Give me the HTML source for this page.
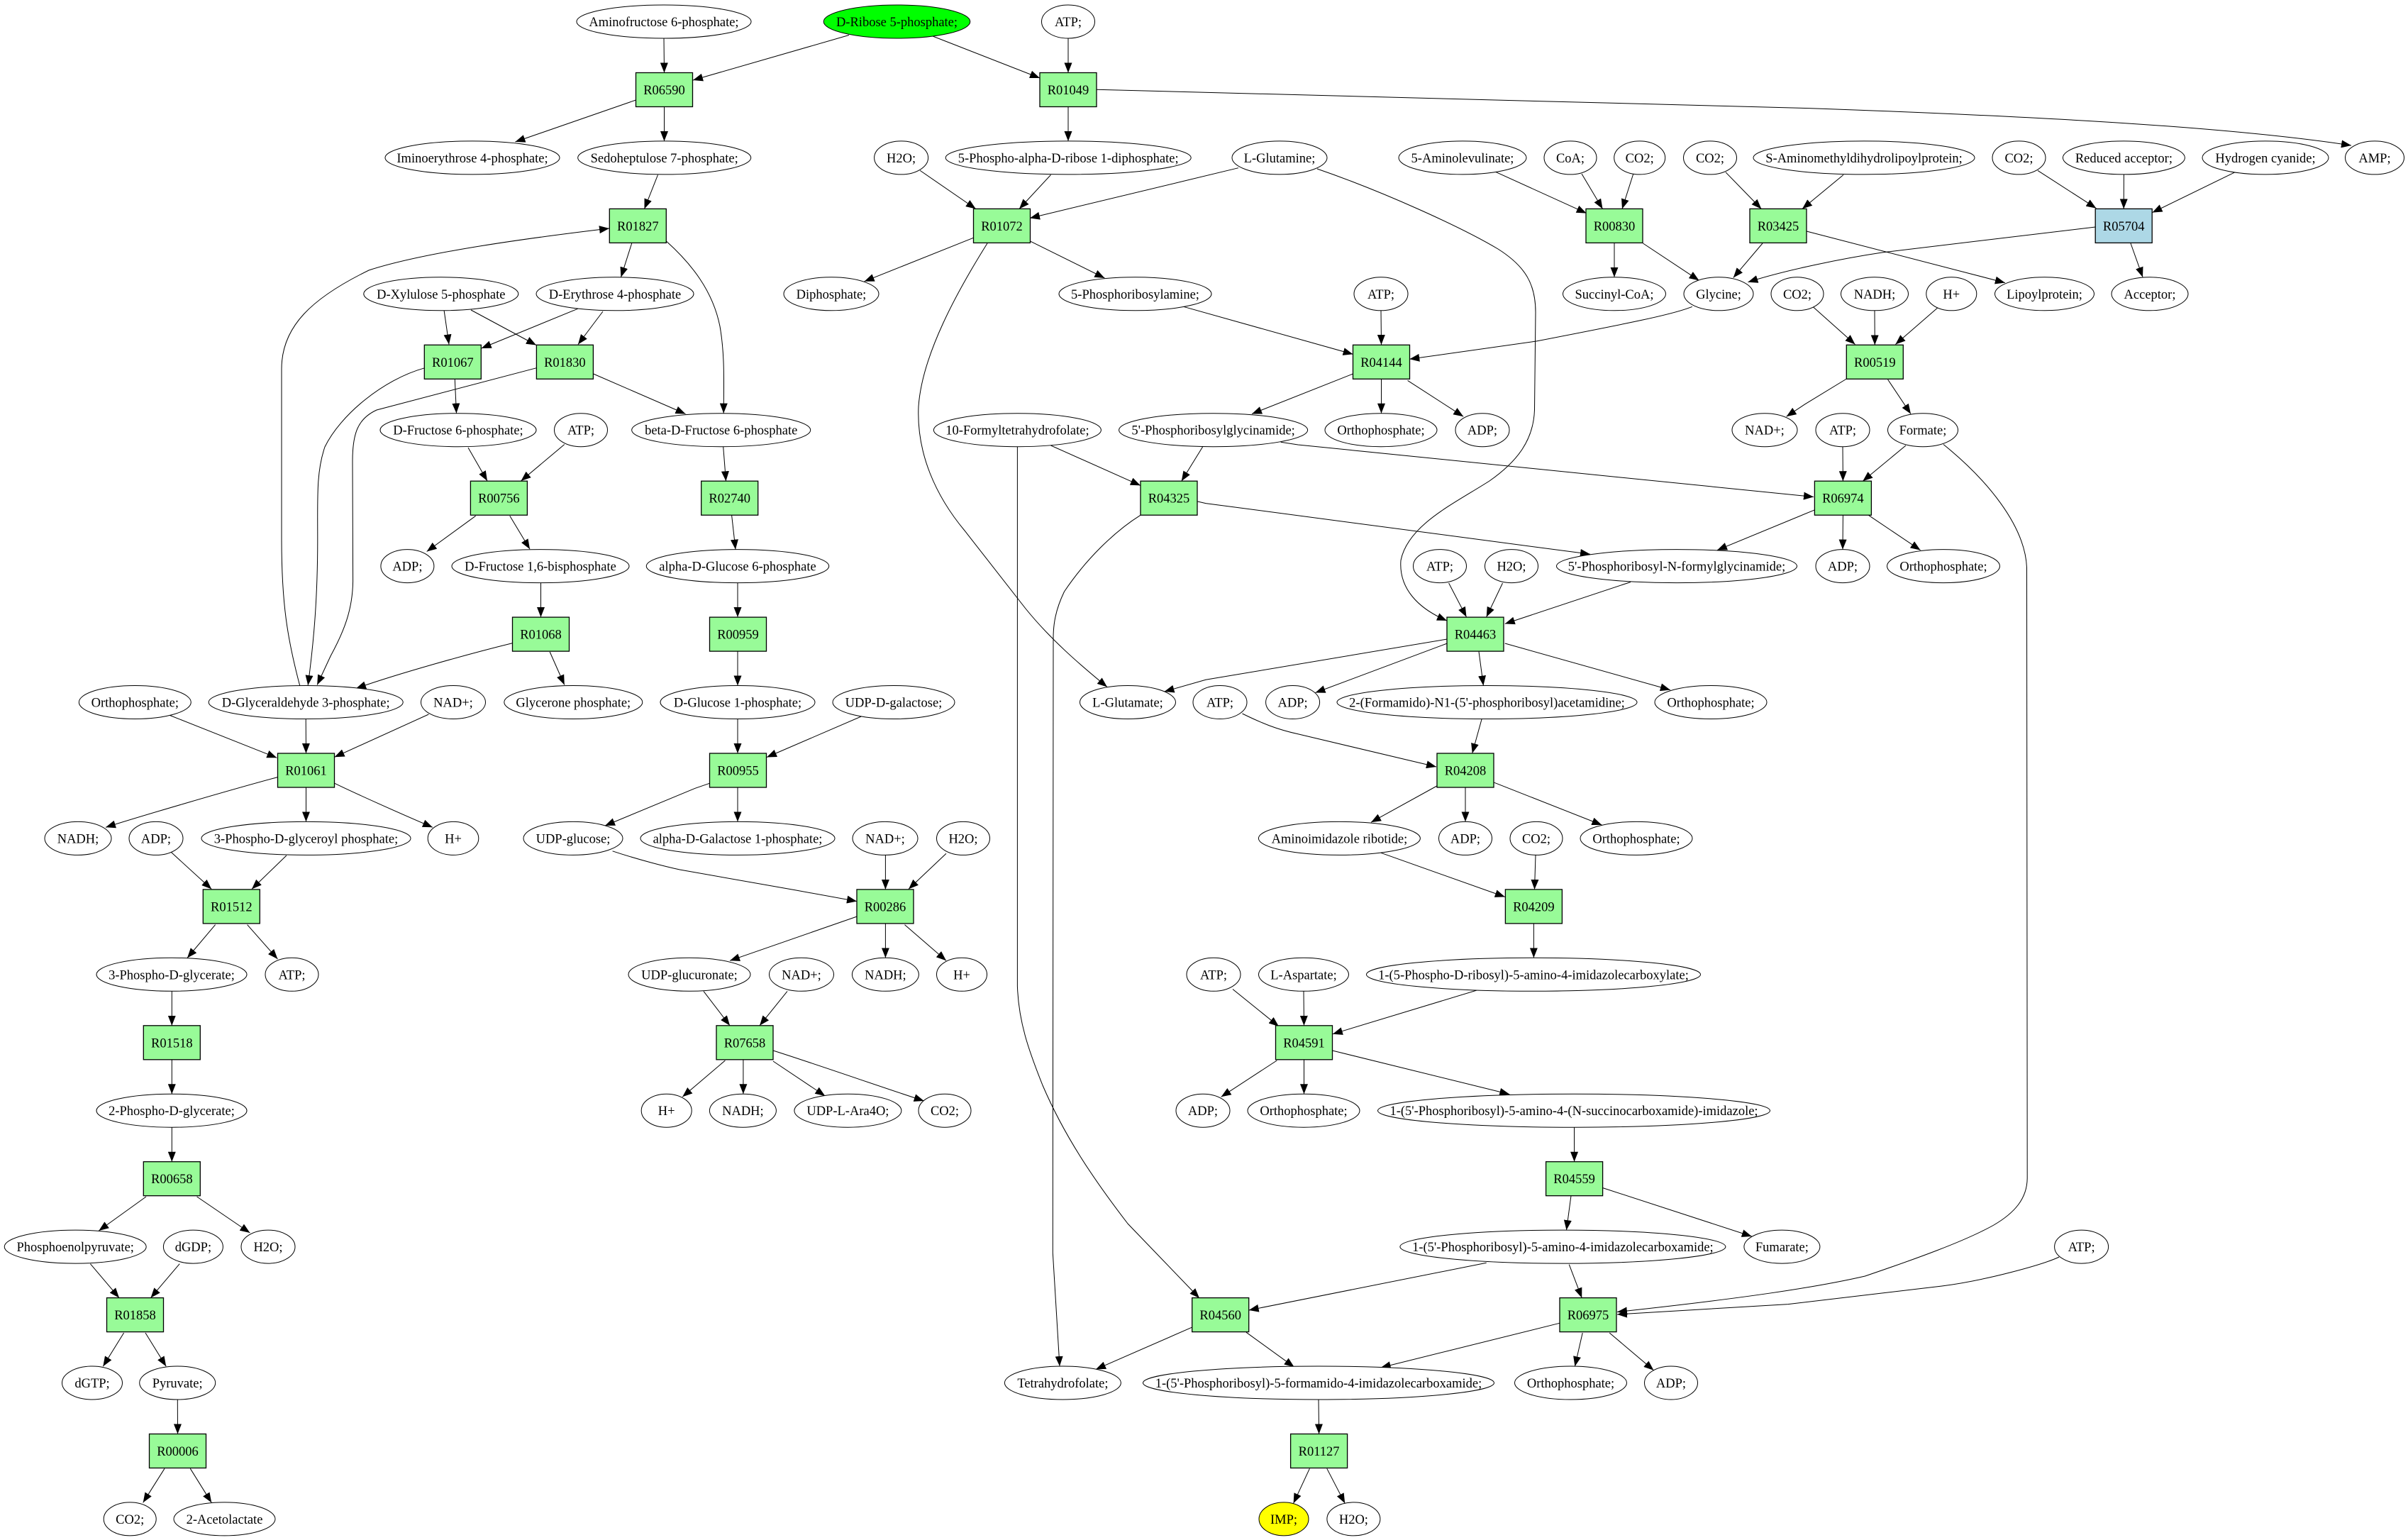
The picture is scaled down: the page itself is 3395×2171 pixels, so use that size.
<!DOCTYPE html>
<html><head><meta charset="utf-8"><style>
html,body{margin:0;padding:0;background:#fff;}
svg{display:block;}
</style></head><body>
<svg xmlns="http://www.w3.org/2000/svg" width="3395" height="2171" viewBox="0 0 3395 2171">
<defs>
<marker id="a" markerWidth="14" markerHeight="11" refX="14" refY="5.5" orient="auto" markerUnits="userSpaceOnUse"><path d="M0,0 L14,5.5 L0,11 z" fill="#000"/></marker>
</defs>
<rect width="3395" height="2171" fill="#fff"/>
<g fill="none" stroke="#000" stroke-width="1" marker-end="url(#a)">
<path d="M936,53.9 L936.5,102.5"/>
<path d="M1197,49.5 L977,113"/>
<path d="M1315,51 L1466,110"/>
<path d="M1506,54 L1506,102.5"/>
<path d="M896.6,141 L726.4,200"/>
<path d="M936.5,150.5 L936.5,199"/>
<path d="M1506,150.5 L1506,199"/>
<path d="M1546,126.2 L2550,152.6 C2900,165 3150,180 3315,205"/>
<path d="M927.5,246.5 L908.5,294.5"/>
<path d="M422.8,966.9 C405,900 397,850 397,760 L397,520 C397,460 440,420 520,381 C600,355 750,335 859,322"/>
<path d="M890.7,343 L875.5,390.7"/>
<path d="M939.4,340 C975,372 1005,410 1015,460 C1022,500 1020.5,540 1020.2,582.6"/>
<path d="M626,437 L633,485.5"/>
<path d="M664,437 L756,486.5"/>
<path d="M816,434.7 L678.7,491"/>
<path d="M850,439 L815,485.5"/>
<path d="M598.5,518.8 C540,535 480,585 458,630 C446,665 447.8,700 447.8,760 C447.8,840 443,900 434.2,966"/>
<path d="M756,518.8 L531,578 C505,590 497,610 497,650 L497.6,819.6 C497,860 485,890 466,925 L447.2,965.5"/>
<path d="M836.5,527 L966.5,583.5"/>
<path d="M641.3,535 L643.5,582.6"/>
<path d="M660,631 L687,678"/>
<path d="M795.8,626.5 L734.5,678"/>
<path d="M670.6,727.3 L601.7,777.5"/>
<path d="M718.8,727.3 L747,774.1"/>
<path d="M762.5,821.6 L762.5,870"/>
<path d="M775.2,919 L795.8,965.5"/>
<path d="M722.6,906.6 C660,922 560,950 502,970.5"/>
<path d="M1019.7,629.8 L1023.5,678.3"/>
<path d="M1031.6,726.3 L1037,774.6"/>
<path d="M1040,821.6 L1040,870"/>
<path d="M1040,918 L1040,966.5"/>
<path d="M1040,1013.5 L1040,1062"/>
<path d="M1214.3,1010 L1081,1067.5"/>
<path d="M1000.7,1104.2 L980,1111.3 L853,1164"/>
<path d="M1040,1110 L1040,1158.4"/>
<path d="M239.6,1008.5 L390.3,1068.3"/>
<path d="M431.2,1013.5 L431.5,1062"/>
<path d="M604.4,1007 L471.6,1067.3"/>
<path d="M391.4,1095.6 C330,1112 200,1150 149,1166.3"/>
<path d="M431.5,1110 L431.5,1158.4"/>
<path d="M471.6,1104.2 C500,1118 560,1145 609.9,1166.3"/>
<path d="M241.2,1201.3 L298.2,1253.4"/>
<path d="M403.9,1206 L355,1253.4"/>
<path d="M303.6,1303.6 L264,1350.5"/>
<path d="M348.6,1303.6 L391.4,1352"/>
<path d="M242.3,1397.3 L242.3,1445.8"/>
<path d="M242.3,1493.8 L242.3,1542.2"/>
<path d="M242.3,1589.2 L242.3,1637.7"/>
<path d="M206,1687 L139.3,1735"/>
<path d="M277.6,1687 L352.4,1738"/>
<path d="M127.4,1781.7 L168,1829.6"/>
<path d="M253.2,1781.7 L212.5,1829.6"/>
<path d="M174.6,1879 L145.3,1926.2"/>
<path d="M205,1879 L234.2,1926.2"/>
<path d="M250.3,1973 L250.5,2021.5"/>
<path d="M232,2070.3 L201.7,2118.3"/>
<path d="M268.3,2070.3 L298.2,2118.3"/>
<path d="M863.6,1199.8 C900,1212 940,1222 958.4,1226 L1121,1254.8 L1208,1270.6"/>
<path d="M1248.4,1205.4 L1248.4,1253.9"/>
<path d="M1334,1203.2 L1281,1253.4"/>
<path d="M1208.3,1292 L1029,1354.3"/>
<path d="M1248.4,1301.9 L1248.4,1350.3"/>
<path d="M1275.5,1303.6 L1334,1354.3"/>
<path d="M992,1397.4 L1029,1445.8"/>
<path d="M1110,1397.4 L1071,1445.8"/>
<path d="M1022.4,1495 L962.2,1546.3"/>
<path d="M1047.9,1493.8 L1047.9,1542.2"/>
<path d="M1090,1496 L1163.3,1545"/>
<path d="M1090,1481 C1150,1500 1250,1535 1302.7,1552"/>
<path d="M1297.2,240.4 L1375.8,294.5"/>
<path d="M1481.5,246.5 L1437,294.5"/>
<path d="M1746,236.7 L1452,307.5"/>
<path d="M1372.6,335.2 L1218.6,396.7"/>
<path d="M1452.3,339.9 L1557.4,392"/>
<path d="M1392,343 C1350,410 1300,500 1295,573 C1292,640 1320,700 1360,748 L1446,858 C1480,900 1520,935 1561,968.5"/>
<path d="M1668.6,432.3 L1907.6,499.4"/>
<path d="M1947,437.8 L1947.5,486"/>
<path d="M2385.8,432.3 C2360,443 2300,455 2166,481 L1987.3,506.3"/>
<path d="M1907.6,527 L1765,583.5"/>
<path d="M1947.5,534.3 L1947.5,582.7"/>
<path d="M1984.6,536.4 L2063.2,587.2"/>
<path d="M2106.6,241.4 L2236.7,300.6"/>
<path d="M2230,245 L2259.5,294.5"/>
<path d="M2302.8,245 L2287,294.5"/>
<path d="M2433,242.8 L2483.3,294.5"/>
<path d="M2599,246.5 L2541,294.4"/>
<path d="M2276,342.4 L2276,390.8"/>
<path d="M2316.4,343 L2395.5,395.4"/>
<path d="M2485,343 L2443.8,391.5"/>
<path d="M2954.3,320 L2653.4,356 C2600,364 2520,380 2464.4,397.7"/>
<path d="M2547,326 L2826.9,398.6"/>
<path d="M2873,240.4 L2955.4,293.6"/>
<path d="M2994.4,245.9 L2994.2,294.4"/>
<path d="M3151,242.8 L3034.5,299.6"/>
<path d="M3004,343 L3021,390.7"/>
<path d="M2555.8,432.3 L2615.5,485.5"/>
<path d="M2643,437.8 L2643.3,486.3"/>
<path d="M2732,433.7 L2672.4,485.5"/>
<path d="M2603.5,534 L2545,569.7 L2518.6,587.2"/>
<path d="M2661.6,535 L2694,583.5"/>
<path d="M2598,629.7 L2598.4,678.2"/>
<path d="M2687,628 L2626.3,678.3"/>
<path d="M2740,626.5 C2800,675 2855,740 2857.5,800 L2858.2,1661 C2858,1690 2840,1710 2811,1727 C2770,1750 2700,1775 2629.5,1799 C2560,1815 2460,1830 2280,1849.5"/>
<path d="M2903.2,1772 C2880,1783 2800,1805 2737.9,1813 L2521,1838.6 L2280,1853"/>
<path d="M2598.4,726.2 L2598,774.6"/>
<path d="M2634.4,726.3 L2707.6,775.6"/>
<path d="M2558.6,718.8 L2421,775.6"/>
<path d="M1805.7,623.3 L1830,627 L2557,700.5"/>
<path d="M1481.5,628 L1607.9,684.4"/>
<path d="M1695.7,629.8 L1665.8,678.3"/>
<path d="M1434.4,629.8 L1434.4,1390 C1436,1440 1450,1480 1470,1530 C1500,1600 1540,1660 1590,1725 L1691,1830"/>
<path d="M1607.9,726.3 C1570,750 1530,790 1500.5,834 C1488,860 1485,880 1485,900 L1484.3,1766 L1494,1926"/>
<path d="M1688.6,707 L1700,709.6 L2242,781.3"/>
<path d="M1857,238 C1950,270 2060,320 2112,351 C2150,375 2165,400 2165,440 L2163.5,578 C2162,620 2140,650 2100,678 C2050,710 1985,740 1975,790 C1972,830 2000,858 2040,875"/>
<path d="M2042.6,822 L2067.5,869.8"/>
<path d="M2118.5,822 L2095.7,869.8"/>
<path d="M2299,820.5 L2121.8,879.4"/>
<path d="M2040.4,901 L1700,958.3 L1641.5,975"/>
<path d="M2040.4,907 L1854.5,976.5"/>
<path d="M2085,918.6 L2091.4,966.5"/>
<path d="M2121.8,907 L2354.9,972.6"/>
<path d="M1751.5,1006 C1780,1020 1800,1028 1830,1034.8 L2025,1081"/>
<path d="M2089.2,1013.3 L2075.7,1062"/>
<path d="M2025.8,1108 L1933,1159.2"/>
<path d="M2066,1110 L2066,1158.4"/>
<path d="M2106.6,1103.2 L2258.4,1163"/>
<path d="M1946.7,1202.2 L2121.8,1264.4"/>
<path d="M2165,1205.4 L2163.5,1253.9"/>
<path d="M2162.4,1301.9 L2162.4,1350.3"/>
<path d="M1738,1394.5 L1803,1447"/>
<path d="M1838,1397.3 L1838.5,1445.8"/>
<path d="M2082.2,1396 L1878.9,1457.7"/>
<path d="M1800.3,1495 L1721.7,1546.3"/>
<path d="M1838.5,1493.8 L1838.5,1542.2"/>
<path d="M1878.4,1481 L2128.3,1542.6"/>
<path d="M2219.5,1589.2 L2219.6,1637.7"/>
<path d="M2215,1685.7 L2208.5,1734.1"/>
<path d="M2259.4,1674.5 L2469.8,1743"/>
<path d="M2095.7,1780.3 L1760.7,1847"/>
<path d="M2212.3,1782.7 L2230.2,1829.6"/>
<path d="M1757,1878.2 L1824.7,1927.2"/>
<path d="M1680.5,1871.2 L1545,1930.4"/>
<path d="M2199.3,1865.2 L1946.7,1928"/>
<path d="M2231.2,1879 L2220.4,1926.2"/>
<path d="M2269.2,1879 L2331.5,1931.8"/>
<path d="M1859,1973 L1859.6,2021.5"/>
<path d="M1846.4,2070.3 L1823.6,2119.3"/>
<path d="M1870.8,2070.3 L1896.2,2119.3"/>
</g>
<g fill="#fff" stroke="#000" stroke-width="1">
<ellipse cx="936" cy="30.5" rx="123" ry="23.5"/>
<ellipse cx="1264.5" cy="30.5" rx="103.3" ry="23.5" fill="#00ff00"/>
<ellipse cx="1506" cy="30.5" rx="37.5" ry="23.5"/>
<ellipse cx="666" cy="222.4" rx="123" ry="23.5"/>
<ellipse cx="936.7" cy="222.4" rx="122" ry="23.5"/>
<ellipse cx="1270.6" cy="222.4" rx="38" ry="23.5"/>
<ellipse cx="1506.2" cy="222.4" rx="173" ry="23.5"/>
<ellipse cx="1804" cy="222.4" rx="67" ry="23.5"/>
<ellipse cx="2062" cy="222.4" rx="90" ry="23.5"/>
<ellipse cx="2214" cy="222.4" rx="37" ry="23.5"/>
<ellipse cx="2311.7" cy="222.4" rx="36" ry="23.5"/>
<ellipse cx="2411" cy="222.4" rx="37.5" ry="23.5"/>
<ellipse cx="2628" cy="222.4" rx="156" ry="23.5"/>
<ellipse cx="2846.5" cy="222.4" rx="37.5" ry="23.5"/>
<ellipse cx="2994.4" cy="222.4" rx="86" ry="23.5"/>
<ellipse cx="3194" cy="222.4" rx="89" ry="23.5"/>
<ellipse cx="3348" cy="222.4" rx="41.5" ry="23.5"/>
<ellipse cx="621.8" cy="414.3" rx="109" ry="23.5"/>
<ellipse cx="867" cy="414.3" rx="111" ry="23.5"/>
<ellipse cx="1172" cy="414.3" rx="67" ry="23.5"/>
<ellipse cx="1600.5" cy="414.3" rx="107.5" ry="23.5"/>
<ellipse cx="1947" cy="414.3" rx="38" ry="23.5"/>
<ellipse cx="2276" cy="414.3" rx="72.5" ry="23.5"/>
<ellipse cx="2423" cy="414.3" rx="49" ry="23.5"/>
<ellipse cx="2534" cy="414.3" rx="37" ry="23.5"/>
<ellipse cx="2643" cy="414.3" rx="47.5" ry="23.5"/>
<ellipse cx="2751.3" cy="414.3" rx="35.5" ry="23.5"/>
<ellipse cx="2882.5" cy="414.3" rx="70" ry="23.5"/>
<ellipse cx="3031" cy="414.3" rx="54" ry="23.5"/>
<ellipse cx="646" cy="606.2" rx="110" ry="23.5"/>
<ellipse cx="819" cy="606.2" rx="37.5" ry="23.5"/>
<ellipse cx="1016.7" cy="606.2" rx="126" ry="23.5"/>
<ellipse cx="1434.4" cy="606.2" rx="118" ry="23.5"/>
<ellipse cx="1710.6" cy="606.2" rx="133" ry="23.5"/>
<ellipse cx="1947" cy="606.2" rx="79" ry="23.5"/>
<ellipse cx="2090" cy="606.2" rx="38" ry="23.5"/>
<ellipse cx="2488" cy="606.2" rx="46" ry="23.5"/>
<ellipse cx="2598" cy="606.2" rx="38" ry="23.5"/>
<ellipse cx="2711" cy="606.2" rx="49.5" ry="23.5"/>
<ellipse cx="574.4" cy="798.1" rx="37.5" ry="23.5"/>
<ellipse cx="762" cy="798.1" rx="125" ry="23.5"/>
<ellipse cx="1040" cy="798.1" rx="128.7" ry="23.5"/>
<ellipse cx="2030" cy="798.1" rx="37.5" ry="23.5"/>
<ellipse cx="2131" cy="798.1" rx="37.5" ry="23.5"/>
<ellipse cx="2364" cy="798.1" rx="169.5" ry="23.5"/>
<ellipse cx="2598" cy="798.1" rx="38" ry="23.5"/>
<ellipse cx="2740" cy="798.1" rx="79.5" ry="23.5"/>
<ellipse cx="190.3" cy="990" rx="79" ry="23.5"/>
<ellipse cx="431.2" cy="990" rx="137" ry="23.5"/>
<ellipse cx="639" cy="990" rx="45.5" ry="23.5"/>
<ellipse cx="808.3" cy="990" rx="97.5" ry="23.5"/>
<ellipse cx="1040" cy="990" rx="109" ry="23.5"/>
<ellipse cx="1260" cy="990" rx="86" ry="23.5"/>
<ellipse cx="1590" cy="990" rx="67.5" ry="23.5"/>
<ellipse cx="1720" cy="990" rx="38" ry="23.5"/>
<ellipse cx="1822.6" cy="990" rx="38" ry="23.5"/>
<ellipse cx="2096.5" cy="990" rx="211.5" ry="23.5"/>
<ellipse cx="2412" cy="990" rx="79" ry="23.5"/>
<ellipse cx="110" cy="1181.9" rx="47" ry="23.5"/>
<ellipse cx="220" cy="1181.9" rx="38" ry="23.5"/>
<ellipse cx="431.5" cy="1181.9" rx="147.5" ry="23.5"/>
<ellipse cx="639" cy="1181.9" rx="35.8" ry="23.5"/>
<ellipse cx="808" cy="1181.9" rx="70" ry="23.5"/>
<ellipse cx="1040" cy="1181.9" rx="137" ry="23.5"/>
<ellipse cx="1248" cy="1181.9" rx="46" ry="23.5"/>
<ellipse cx="1358" cy="1181.9" rx="37.5" ry="23.5"/>
<ellipse cx="1888.4" cy="1181.9" rx="114" ry="23.5"/>
<ellipse cx="2066" cy="1181.9" rx="37.5" ry="23.5"/>
<ellipse cx="2166" cy="1181.9" rx="37" ry="23.5"/>
<ellipse cx="2307" cy="1181.9" rx="79" ry="23.5"/>
<ellipse cx="242" cy="1373.8" rx="106" ry="23.5"/>
<ellipse cx="411.5" cy="1373.8" rx="37.5" ry="23.5"/>
<ellipse cx="972" cy="1373.8" rx="86" ry="23.5"/>
<ellipse cx="1130" cy="1373.8" rx="45.5" ry="23.5"/>
<ellipse cx="1248.4" cy="1373.8" rx="47" ry="23.5"/>
<ellipse cx="1356" cy="1373.8" rx="35.5" ry="23.5"/>
<ellipse cx="1711" cy="1373.8" rx="38" ry="23.5"/>
<ellipse cx="1838" cy="1373.8" rx="63.5" ry="23.5"/>
<ellipse cx="2162" cy="1373.8" rx="235.5" ry="23.5"/>
<ellipse cx="242" cy="1565.7" rx="106" ry="23.5"/>
<ellipse cx="939.7" cy="1565.7" rx="35.5" ry="23.5"/>
<ellipse cx="1047.4" cy="1565.7" rx="47" ry="23.5"/>
<ellipse cx="1195.4" cy="1565.7" rx="75.5" ry="23.5"/>
<ellipse cx="1332" cy="1565.7" rx="37" ry="23.5"/>
<ellipse cx="1696" cy="1565.7" rx="38" ry="23.5"/>
<ellipse cx="1838" cy="1565.7" rx="79" ry="23.5"/>
<ellipse cx="2219" cy="1565.7" rx="276.5" ry="23.5"/>
<ellipse cx="106.2" cy="1757.6" rx="100" ry="23.5"/>
<ellipse cx="272.4" cy="1757.6" rx="42" ry="23.5"/>
<ellipse cx="378" cy="1757.6" rx="38" ry="23.5"/>
<ellipse cx="2203.4" cy="1757.6" rx="229.5" ry="23.5"/>
<ellipse cx="2512.4" cy="1757.6" rx="53.5" ry="23.5"/>
<ellipse cx="2934.6" cy="1757.6" rx="38" ry="23.5"/>
<ellipse cx="130" cy="1949.5" rx="42.5" ry="23.5"/>
<ellipse cx="250.2" cy="1949.5" rx="53.5" ry="23.5"/>
<ellipse cx="1498.4" cy="1949.5" rx="82" ry="23.5"/>
<ellipse cx="1859" cy="1949.5" rx="247.5" ry="23.5"/>
<ellipse cx="2214.5" cy="1949.5" rx="79" ry="23.5"/>
<ellipse cx="2356" cy="1949.5" rx="37.5" ry="23.5"/>
<ellipse cx="183.2" cy="2141.4" rx="37" ry="23.5"/>
<ellipse cx="316.5" cy="2141.4" rx="71.5" ry="23.5"/>
<ellipse cx="1810" cy="2141.4" rx="35" ry="23.5" fill="#ffff00"/>
<ellipse cx="1908.4" cy="2141.4" rx="37.5" ry="23.5"/>
</g>
<g fill="#98fb98" stroke="#000" stroke-width="1.3">
<rect x="896.5" y="102.5" width="80" height="48"/>
<rect x="1466" y="102.5" width="80" height="48"/>
<rect x="859.3" y="294.4" width="80" height="48"/>
<rect x="1372.5" y="294.4" width="80" height="48"/>
<rect x="2236" y="294.4" width="80" height="48"/>
<rect x="2467" y="294.4" width="80" height="48"/>
<rect x="2954.2" y="294.4" width="80" height="48" fill="#add8e6"/>
<rect x="598.3" y="486.3" width="80" height="48"/>
<rect x="756.4" y="486.3" width="80" height="48"/>
<rect x="1907.5" y="486.3" width="80" height="48"/>
<rect x="2603.3" y="486.3" width="80" height="48"/>
<rect x="663.4" y="678.2" width="80" height="48"/>
<rect x="988.7" y="678.2" width="80" height="48"/>
<rect x="1608" y="678.2" width="80" height="48"/>
<rect x="2558.4" y="678.2" width="80" height="48"/>
<rect x="722.5" y="870.1" width="80" height="48"/>
<rect x="1000.5" y="870.1" width="80" height="48"/>
<rect x="2040" y="870.1" width="80" height="48"/>
<rect x="391.5" y="1062" width="80" height="48"/>
<rect x="1000.5" y="1062" width="80" height="48"/>
<rect x="2026" y="1062" width="80" height="48"/>
<rect x="286.3" y="1253.9" width="80" height="48"/>
<rect x="1208" y="1253.9" width="80" height="48"/>
<rect x="2122.4" y="1253.9" width="80" height="48"/>
<rect x="202.3" y="1445.8" width="80" height="48"/>
<rect x="1010" y="1445.8" width="80" height="48"/>
<rect x="1798.5" y="1445.8" width="80" height="48"/>
<rect x="202.3" y="1637.7" width="80" height="48"/>
<rect x="2179.6" y="1637.7" width="80" height="48"/>
<rect x="150.5" y="1829.6" width="80" height="48"/>
<rect x="1680.7" y="1829.6" width="80" height="48"/>
<rect x="2199" y="1829.6" width="80" height="48"/>
<rect x="210.5" y="2021.5" width="80" height="48"/>
<rect x="1819.6" y="2021.5" width="80" height="48"/>
</g>
<g font-family="'Liberation Serif', 'Times New Roman', serif" font-size="18.5" text-anchor="middle" fill="#000">
<text x="936" y="37">Aminofructose 6-phosphate;</text>
<text x="1264.5" y="37">D-Ribose 5-phosphate;</text>
<text x="1506" y="37">ATP;</text>
<text x="666" y="228.9">Iminoerythrose 4-phosphate;</text>
<text x="936.7" y="228.9">Sedoheptulose 7-phosphate;</text>
<text x="1270.6" y="228.9">H2O;</text>
<text x="1506.2" y="228.9">5-Phospho-alpha-D-ribose 1-diphosphate;</text>
<text x="1804" y="228.9">L-Glutamine;</text>
<text x="2062" y="228.9">5-Aminolevulinate;</text>
<text x="2214" y="228.9">CoA;</text>
<text x="2311.7" y="228.9">CO2;</text>
<text x="2411" y="228.9">CO2;</text>
<text x="2628" y="228.9">S-Aminomethyldihydrolipoylprotein;</text>
<text x="2846.5" y="228.9">CO2;</text>
<text x="2994.4" y="228.9">Reduced acceptor;</text>
<text x="3194" y="228.9">Hydrogen cyanide;</text>
<text x="3348" y="228.9">AMP;</text>
<text x="621.8" y="420.8">D-Xylulose 5-phosphate</text>
<text x="867" y="420.8">D-Erythrose 4-phosphate</text>
<text x="1172" y="420.8">Diphosphate;</text>
<text x="1600.5" y="420.8">5-Phosphoribosylamine;</text>
<text x="1947" y="420.8">ATP;</text>
<text x="2276" y="420.8">Succinyl-CoA;</text>
<text x="2423" y="420.8">Glycine;</text>
<text x="2534" y="420.8">CO2;</text>
<text x="2643" y="420.8">NADH;</text>
<text x="2751.3" y="420.8">H+</text>
<text x="2882.5" y="420.8">Lipoylprotein;</text>
<text x="3031" y="420.8">Acceptor;</text>
<text x="646" y="612.7">D-Fructose 6-phosphate;</text>
<text x="819" y="612.7">ATP;</text>
<text x="1016.7" y="612.7">beta-D-Fructose 6-phosphate</text>
<text x="1434.4" y="612.7">10-Formyltetrahydrofolate;</text>
<text x="1710.6" y="612.7">5'-Phosphoribosylglycinamide;</text>
<text x="1947" y="612.7">Orthophosphate;</text>
<text x="2090" y="612.7">ADP;</text>
<text x="2488" y="612.7">NAD+;</text>
<text x="2598" y="612.7">ATP;</text>
<text x="2711" y="612.7">Formate;</text>
<text x="574.4" y="804.6">ADP;</text>
<text x="762" y="804.6">D-Fructose 1,6-bisphosphate</text>
<text x="1040" y="804.6">alpha-D-Glucose 6-phosphate</text>
<text x="2030" y="804.6">ATP;</text>
<text x="2131" y="804.6">H2O;</text>
<text x="2364" y="804.6">5'-Phosphoribosyl-N-formylglycinamide;</text>
<text x="2598" y="804.6">ADP;</text>
<text x="2740" y="804.6">Orthophosphate;</text>
<text x="190.3" y="996.5">Orthophosphate;</text>
<text x="431.2" y="996.5">D-Glyceraldehyde 3-phosphate;</text>
<text x="639" y="996.5">NAD+;</text>
<text x="808.3" y="996.5">Glycerone phosphate;</text>
<text x="1040" y="996.5">D-Glucose 1-phosphate;</text>
<text x="1260" y="996.5">UDP-D-galactose;</text>
<text x="1590" y="996.5">L-Glutamate;</text>
<text x="1720" y="996.5">ATP;</text>
<text x="1822.6" y="996.5">ADP;</text>
<text x="2096.5" y="996.5">2-(Formamido)-N1-(5'-phosphoribosyl)acetamidine;</text>
<text x="2412" y="996.5">Orthophosphate;</text>
<text x="110" y="1188.4">NADH;</text>
<text x="220" y="1188.4">ADP;</text>
<text x="431.5" y="1188.4">3-Phospho-D-glyceroyl phosphate;</text>
<text x="639" y="1188.4">H+</text>
<text x="808" y="1188.4">UDP-glucose;</text>
<text x="1040" y="1188.4">alpha-D-Galactose 1-phosphate;</text>
<text x="1248" y="1188.4">NAD+;</text>
<text x="1358" y="1188.4">H2O;</text>
<text x="1888.4" y="1188.4">Aminoimidazole ribotide;</text>
<text x="2066" y="1188.4">ADP;</text>
<text x="2166" y="1188.4">CO2;</text>
<text x="2307" y="1188.4">Orthophosphate;</text>
<text x="242" y="1380.3">3-Phospho-D-glycerate;</text>
<text x="411.5" y="1380.3">ATP;</text>
<text x="972" y="1380.3">UDP-glucuronate;</text>
<text x="1130" y="1380.3">NAD+;</text>
<text x="1248.4" y="1380.3">NADH;</text>
<text x="1356" y="1380.3">H+</text>
<text x="1711" y="1380.3">ATP;</text>
<text x="1838" y="1380.3">L-Aspartate;</text>
<text x="2162" y="1380.3">1-(5-Phospho-D-ribosyl)-5-amino-4-imidazolecarboxylate;</text>
<text x="242" y="1572.2">2-Phospho-D-glycerate;</text>
<text x="939.7" y="1572.2">H+</text>
<text x="1047.4" y="1572.2">NADH;</text>
<text x="1195.4" y="1572.2">UDP-L-Ara4O;</text>
<text x="1332" y="1572.2">CO2;</text>
<text x="1696" y="1572.2">ADP;</text>
<text x="1838" y="1572.2">Orthophosphate;</text>
<text x="2219" y="1572.2">1-(5'-Phosphoribosyl)-5-amino-4-(N-succinocarboxamide)-imidazole;</text>
<text x="106.2" y="1764.1">Phosphoenolpyruvate;</text>
<text x="272.4" y="1764.1">dGDP;</text>
<text x="378" y="1764.1">H2O;</text>
<text x="2203.4" y="1764.1">1-(5'-Phosphoribosyl)-5-amino-4-imidazolecarboxamide;</text>
<text x="2512.4" y="1764.1">Fumarate;</text>
<text x="2934.6" y="1764.1">ATP;</text>
<text x="130" y="1956">dGTP;</text>
<text x="250.2" y="1956">Pyruvate;</text>
<text x="1498.4" y="1956">Tetrahydrofolate;</text>
<text x="1859" y="1956">1-(5'-Phosphoribosyl)-5-formamido-4-imidazolecarboxamide;</text>
<text x="2214.5" y="1956">Orthophosphate;</text>
<text x="2356" y="1956">ADP;</text>
<text x="183.2" y="2147.9">CO2;</text>
<text x="316.5" y="2147.9">2-Acetolactate</text>
<text x="1810" y="2147.9">IMP;</text>
<text x="1908.4" y="2147.9">H2O;</text>
<text x="936.5" y="133">R06590</text>
<text x="1506" y="133">R01049</text>
<text x="899.3" y="324.9">R01827</text>
<text x="1412.5" y="324.9">R01072</text>
<text x="2276" y="324.9">R00830</text>
<text x="2507" y="324.9">R03425</text>
<text x="2994.2" y="324.9">R05704</text>
<text x="638.3" y="516.8">R01067</text>
<text x="796.4" y="516.8">R01830</text>
<text x="1947.5" y="516.8">R04144</text>
<text x="2643.3" y="516.8">R00519</text>
<text x="703.4" y="708.7">R00756</text>
<text x="1028.7" y="708.7">R02740</text>
<text x="1648" y="708.7">R04325</text>
<text x="2598.4" y="708.7">R06974</text>
<text x="762.5" y="900.6">R01068</text>
<text x="1040.5" y="900.6">R00959</text>
<text x="2080" y="900.6">R04463</text>
<text x="431.5" y="1092.5">R01061</text>
<text x="1040.5" y="1092.5">R00955</text>
<text x="2066" y="1092.5">R04208</text>
<text x="326.3" y="1284.4">R01512</text>
<text x="1248" y="1284.4">R00286</text>
<text x="2162.4" y="1284.4">R04209</text>
<text x="242.3" y="1476.3">R01518</text>
<text x="1050" y="1476.3">R07658</text>
<text x="1838.5" y="1476.3">R04591</text>
<text x="242.3" y="1668.2">R00658</text>
<text x="2219.6" y="1668.2">R04559</text>
<text x="190.5" y="1860.1">R01858</text>
<text x="1720.7" y="1860.1">R04560</text>
<text x="2239" y="1860.1">R06975</text>
<text x="250.5" y="2052">R00006</text>
<text x="1859.6" y="2052">R01127</text>
</g>
</svg>
</body></html>
